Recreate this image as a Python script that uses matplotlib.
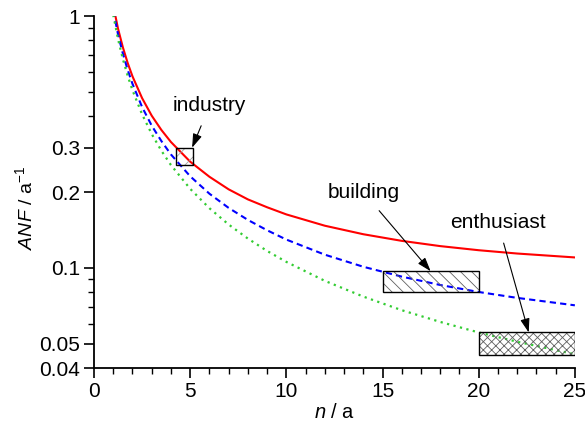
import numpy as np
import matplotlib
matplotlib.use('Agg')
import matplotlib.pyplot as plt
from matplotlib.patches import Rectangle
from matplotlib.ticker import FixedLocator, NullFormatter, MultipleLocator

plt.rcParams['font.family'] = ['Liberation Sans', 'DejaVu Sans']
plt.rcParams['mathtext.fontset'] = 'custom'
plt.rcParams['mathtext.rm'] = 'Liberation Sans'
plt.rcParams['mathtext.it'] = 'Liberation Sans:italic'
plt.rcParams['hatch.linewidth'] = 0.6

# values
n = [1, 1.25, 1.5, 1.75, 2, 2.5, 3, 3.5, 4, 5, 6, 7, 8, 9, 10,
     12, 14, 16, 18, 20, 22, 25]
anf_red = [1.100, 0.890, 0.751, 0.651, 0.576, 0.472, 0.402, 0.353, 0.316,
           0.264, 0.230, 0.205, 0.187, 0.174, 0.163, 0.147, 0.136, 0.128,
           0.122, 0.1175, 0.114, 0.110]
anf_blue = [1.050, 0.845, 0.709, 0.611, 0.538, 0.435, 0.367, 0.319, 0.282,
            0.231, 0.197, 0.173, 0.155, 0.141, 0.1295, 0.1128, 0.101, 0.0923,
            0.0855, 0.0802, 0.0760, 0.0710]
anf_green = [1.010, 0.809, 0.675, 0.579, 0.5075, 0.407, 0.340, 0.292, 0.256,
             0.206, 0.1725, 0.1486, 0.1307, 0.1167, 0.1056, 0.0888, 0.0769,
             0.0679, 0.0610, 0.0554, 0.0509, 0.0454]

# annotated regions: (label, n range, ANF range, hatch, text pos, arrow tip)
regions = [
    ('industry', (4.25, 5.15), (0.257, 0.300), '//', (6.0, 0.44), (5.1, 0.300)),
    ('building', (15.0, 20.0), (0.080, 0.097), '\\\\\\', (14.0, 0.20), (17.5, 0.097)),
    ('enthusiast', (20.0, 25.0), (0.0452, 0.0554), 'xxxx', (21.0, 0.151), (22.6, 0.0554)),
]

fig = plt.figure(figsize=(5.85, 4.28), dpi=100)
ax = fig.add_axes([0.1607, 0.140, 0.822, 0.8226])

ax.plot(n, anf_red, color='#ff0000', lw=1.5, ls='-')
ax.plot(n, anf_blue, color='#0000ff', lw=1.5, ls=(0, (3, 2)))
ax.plot(n, anf_green, color='#33cc33', lw=1.6, ls=(0, (1, 2)))

for label, (x0, x1), (y0, y1), hatch, tpos, tip in regions:
    ec = '#606060' if label != 'industry' else '#a0a0a0'
    ax.add_patch(Rectangle((x0, y0), x1 - x0, y1 - y0, facecolor='none',
                           edgecolor=ec, hatch=hatch, lw=0, zorder=3))
    ax.add_patch(Rectangle((x0, y0), x1 - x0, y1 - y0, facecolor='none',
                           edgecolor='black', lw=1.0, zorder=4))
    ax.annotate(label, xy=tip, xytext=tpos, ha='center', va='center',
                fontsize=15,
                arrowprops=dict(arrowstyle='-|>,head_length=0.6,head_width=0.2',
                                color='black', lw=0.8,
                                mutation_scale=14, shrinkA=6, shrinkB=0))

ax.set_yscale('log')
ax.set_xlim(0, 25)
ax.set_ylim(0.04, 1)

major = [0.04, 0.05, 0.1, 0.2, 0.3, 1]
ax.yaxis.set_major_locator(FixedLocator(major))
ax.set_yticklabels(['0.04', '0.05', '0.1', '0.2', '0.3', '1'])
ax.yaxis.set_minor_locator(FixedLocator([0.06, 0.07, 0.08, 0.09,
                                         0.4, 0.5, 0.6, 0.7, 0.8, 0.9]))
ax.yaxis.set_minor_formatter(NullFormatter())
ax.xaxis.set_major_locator(MultipleLocator(5))
ax.xaxis.set_minor_locator(MultipleLocator(1))

ax.spines['top'].set_visible(False)
ax.spines['right'].set_visible(False)
for s in ('left', 'bottom'):
    ax.spines[s].set_linewidth(1.3)
ax.tick_params(which='major', direction='out', length=7, width=1.2,
               labelsize=15, pad=3)
ax.tick_params(which='minor', direction='out', length=4, width=1.0)

ax.set_xlabel('$n$ / a', fontsize=14.5)
ax.set_ylabel('$ANF$ / a$^{-1}$', fontsize=14)
ax.xaxis.set_label_coords(0.5, -0.098)
ax.yaxis.set_label_coords(-0.12, 0.455)

fig.savefig('out.png', dpi=100)
